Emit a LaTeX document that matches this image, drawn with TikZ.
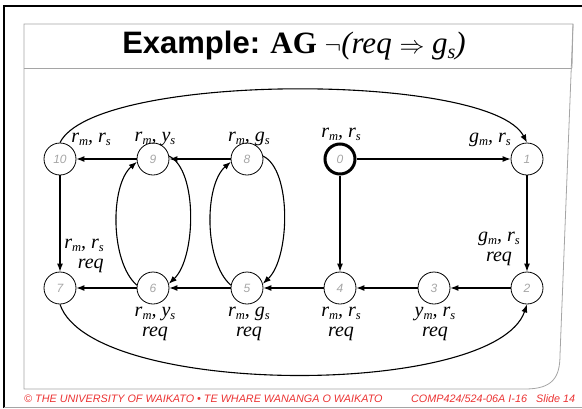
\documentclass[tikz,border=0pt]{standalone}
\usepackage{fontspec}
\setmainfont{Liberation Serif}
\newfontfamily\arialf{Liberation Sans}
\usetikzlibrary{arrows.meta}
\newcommand\lsub[1]{\raisebox{-0.35ex}{\fontsize{12.5}{12.5}\selectfont #1}}
\newcommand\tsub[1]{\raisebox{-0.35ex}{\fontsize{20}{20}\selectfont #1}}
\definecolor{panelgray}{RGB}{165,165,165}
\definecolor{footred}{RGB}{235,50,50}
\tikzset{
  st/.style={circle, draw, line width=0.8pt, minimum size=32pt, inner sep=0pt,
    font=\arialf\itshape\fontsize{12}{12}\selectfont, text=black!35},
  init/.style={st, line width=3pt, minimum size=30pt},
  lbl/.style={inner sep=0pt, align=center, font=\itshape\fontsize{20}{20}\selectfont},
  edge/.style={line width=1.1pt, -{Latex[length=8pt,width=6pt]}},
  panel/.style={draw=panelgray, line width=0.8pt},
  foot/.style={inner sep=0pt, anchor=base west, text=footred, font=\arialf\itshape\fontsize{10.8}{11}\selectfont}
}
\begin{document}
\begin{tikzpicture}[x=1pt,y=-1pt]
\useasboundingbox (0,0) rectangle (582,408);
% outer frame
\draw[line width=2.2pt] (4,408) -- (4,6) -- (582,6);
\draw[panelgray, line width=0.6pt] (4,407) -- (582,407);
% panel
\draw[panel] (24,68) -- (24,24) -- (573,24) -- (572,68);
\draw[panel] (24,68) -- (572,68);
\draw[panel] (24,68) -- (24,389) -- (525,389) .. controls (552,389) and (560,378) .. (560,355) -- (573,24);
% title
\node[inner sep=0pt] (title) at (294,46) {\fontsize{31}{31}\selectfont{\arialf\bfseries Example:} {\bfseries AG} $\neg$\textit{(req} $\Rightarrow$ \textit{g\tsub{s})}};
% states
\node[init] (s0) at (340,159) {0};
\node[st] (s1) at (527,159) {1};
\node[st] (s2) at (527,288) {2};
\node[st] (s3) at (434,288) {3};
\node[st] (s4) at (340,288) {4};
\node[st] (s5) at (247,288) {5};
\node[st] (s6) at (153,288) {6};
\node[st] (s7) at (60,288) {7};
\node[st] (s8) at (247,159) {8};
\node[st] (s9) at (153,159) {9};
\node[st] (s10) at (60,159) {10};
% labels
\node[lbl] (l10) at (91,139) {r\lsub{m}, r\lsub{s}};
\node[lbl] (l9) at (155,139) {r\lsub{m}, y\lsub{s}};
\node[lbl] (l8) at (249,139) {r\lsub{m}, g\lsub{s}};
\node[lbl] (l0) at (341,134) {r\lsub{m}, r\lsub{s}};
\node[lbl] (l1) at (490,140) {g\lsub{m}, r\lsub{s}};
\node[lbl, align=right] (l7) at (84,256) {r\lsub{m}, r\lsub{s}\\req};
\node[lbl] (l6) at (155,324) {r\lsub{m}, y\lsub{s}\\req};
\node[lbl] (l5) at (249,324) {r\lsub{m}, g\lsub{s}\\req};
\node[lbl] (l4) at (341,324) {r\lsub{m}, r\lsub{s}\\req};
\node[lbl] (l3) at (435,324) {y\lsub{m}, r\lsub{s}\\req};
\node[lbl] (l2) at (499,249) {g\lsub{m}, r\lsub{s}\\req};
% transitions
\draw[edge] (s0) -- (s1);
\draw[edge] (s0) -- (s4);
\draw[edge] (s1) -- (s2);
\draw[edge] (s2) -- (s3);
\draw[edge] (s3) -- (s4);
\draw[edge] (s4) -- (s5);
\draw[edge] (s5) -- (s6);
\draw[edge] (s6) -- (s7);
\draw[edge] (s8) -- (s9);
\draw[edge] (s9) -- (s10);
\draw[edge] (s10) -- (s7);
\draw[edge] (s10.north) .. controls (95,72) and (490,72) .. (s1.north);
\draw[edge] (s7.south) .. controls (92,398) and (495,398) .. (s2.south);
\draw[edge] (s8.10) .. controls (292,170) and (290,258) .. (s5.15);
\draw[edge] (s5.170) .. controls (204,262) and (204,185) .. (s8.190);
\draw[edge] (s9.10) .. controls (198,170) and (196,258) .. (s6.15);
\draw[edge] (s6.170) .. controls (110,262) and (110,185) .. (s9.190);
% footer
\node[foot] (f1) at (24,402) {© THE UNIVERSITY OF WAIKATO \textbullet{} TE WHARE WANANGA O WAIKATO};
\node[foot] (f2) at (411,402) {COMP424/524-06A I-16};
\node[foot] (f3) at (536,402) {Slide 14};
\end{tikzpicture}
\end{document}
